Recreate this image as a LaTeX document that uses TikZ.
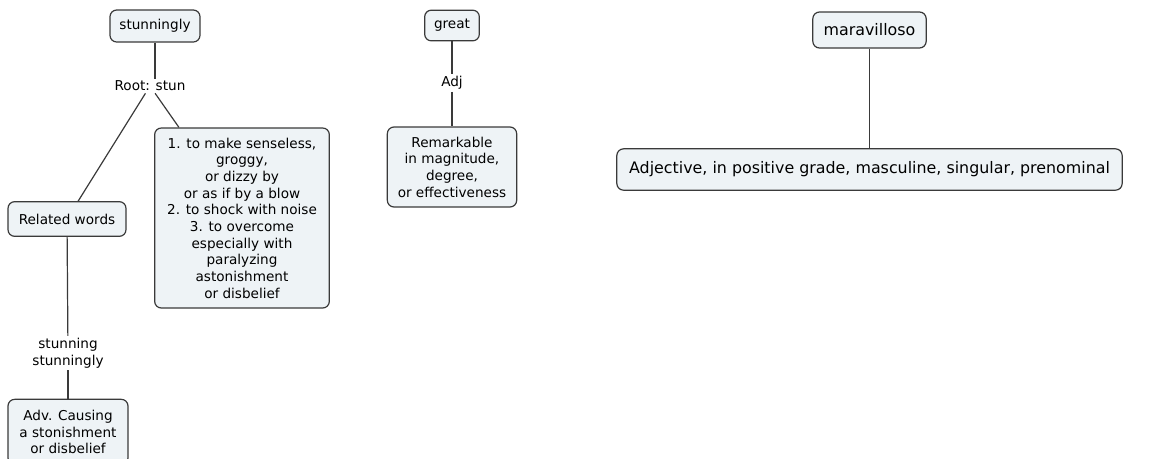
\documentclass[tikz,border=0pt]{standalone}
\usepackage{fontspec}
\setmainfont{DejaVu Sans}
\usepackage{xcolor}
\definecolor{CMFill}{HTML}{EEF3F6}
\definecolor{CMLine}{HTML}{3A3A3A}
\begin{document}
\begin{tikzpicture}[x=0.75pt,y=-0.75pt,
  concept/.style={draw=CMLine,fill=CMFill,line width=0.9pt,rounded corners=5pt,
    align=center,inner sep=2pt,font=\fontsize{10.2}{12.5}\selectfont},
  bigconcept/.style={concept,font=\fontsize{11.9}{14}\selectfont},
  linkword/.style={fill=white,inner sep=1.5pt,align=center,font=\fontsize{10.2}{12.5}\selectfont},
  conn/.style={draw=CMLine,line width=0.9pt}]
\path[use as bounding box] (0,0) rectangle (1166,458);
% left map
\node[concept,minimum width=67.5pt,minimum height=24pt] (stunningly) at (155,26) {stunningly};
\node[linkword] (root) at (150,86) {Root: stun};
\node[concept,minimum width=88.5pt,minimum height=26pt] (related) at (67,219) {Related words};
\node[concept,minimum width=131pt,minimum height=135pt] (meaning) at (242,218) {1. to make senseless,\\groggy,\\or dizzy by\\or as if by a blow\\2. to shock with noise\\3. to overcome\\especially with\\paralyzing\\astonishment\\or disbelief};
\node[linkword] (forms) at (68,353) {stunning\\stunningly};
\node[concept,minimum width=90pt,minimum height=49pt] (adv) at (68,432) {Adv. Causing\\a stonishment\\or disbelief};
\draw[conn] (stunningly) -- (stunningly |- root.north);
\draw[conn] (root) -- (related);
\draw[conn] (root) -- (meaning);
\draw[conn] (related) -- (forms);
\draw[conn] (forms) -- (adv);
% middle map
\node[concept,minimum width=41pt,minimum height=23pt] (great) at (452,25.5) {great};
\node[linkword] (adj) at (452,83) {Adj};
\node[concept,minimum width=97pt,minimum height=60pt] (remarkable) at (452,167) {Remarkable\\in magnitude,\\degree,\\or effectiveness};
\draw[conn] (great) -- (adj);
\draw[conn] (adj) -- (remarkable);
% right map
\node[bigconcept,minimum width=85pt,minimum height=27pt] (maravilloso) at (869.5,30) {maravilloso};
\node[bigconcept,minimum width=379pt,minimum height=31pt] (adjective) at (869.5,169.5) {Adjective, in positive grade, masculine, singular, prenominal};
\draw[conn] (maravilloso) -- (adjective);
\end{tikzpicture}
\end{document}
